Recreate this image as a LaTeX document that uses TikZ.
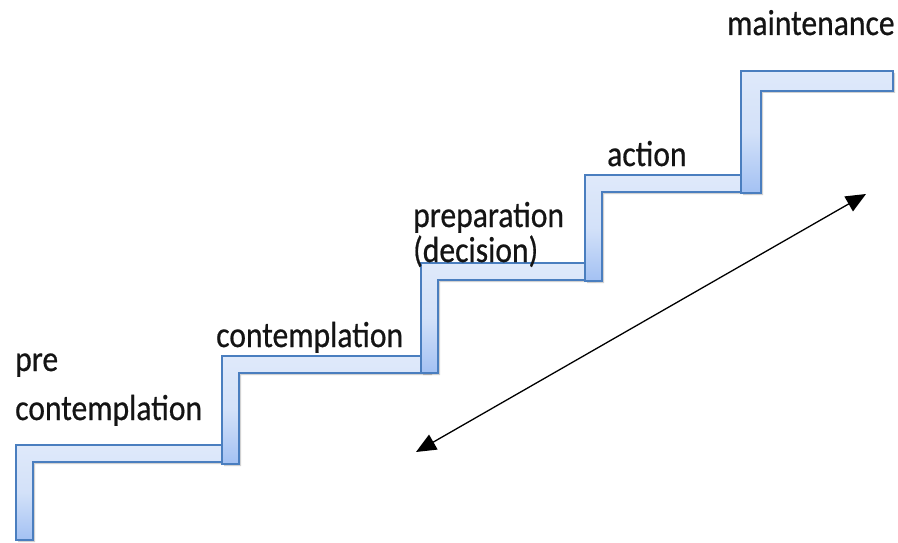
\documentclass[tikz,border=0pt]{standalone}
\usepackage{fontspec}
\usepackage{graphicx}
\setmainfont{Carlito}[FakeBold=0.6]
\usetikzlibrary{arrows.meta,shadows}
\definecolor{stepline}{HTML}{4A7EBF}
\definecolor{steptop}{HTML}{DFE9FA}
\definecolor{stepbot}{HTML}{A3C1F3}
\definecolor{txt}{HTML}{141414}
\newcommand{\stepL}[6]{% xL yT t yB xR
  \fill[black,opacity=0.18] ({#1+2},{#2+2}) -- ({#5+2},{#2+2}) -- ({#5+2},{#2+#3+2}) -- ({#1+#3+2},{#2+#3+2}) -- ({#1+#3+2},{#4+2}) -- ({#1+2},{#4+2}) -- cycle;
  \path[stairstyle] (#1,#4) -- (#1,#2) -- (#5,#2) -- (#5,{#2+#3}) -- ({#1+#3},{#2+#3}) -- ({#1+#3},#4) -- cycle;
}
\tikzset{
  stairstyle/.style={draw=stepline, line width=1.8pt, line join=miter, top color=steptop, bottom color=stepbot, middle color=steptop!80!stepbot},
  label/.style={inner sep=0pt, anchor=base west, text=txt, font=\fontsize{31}{36}\selectfont},
  arr/.style={line width=1.3pt, {Triangle[length=20pt,width=17pt]}-{Triangle[length=20pt,width=17pt]}}
}
\begin{document}
\begin{tikzpicture}[x=1pt,y=-1pt]
\useasboundingbox (0,0) rectangle (898,543);
\stepL{16}{445}{17}{540}{228}{}
\stepL{222}{356}{17}{464}{430}{}
\stepL{421}{263}{17}{373}{594}{}
\stepL{585}{175}{17}{281}{750}{}
\stepL{741}{71}{20}{193}{893}{}
\node[label] (pre) at (15,371) {\scalebox{1.02}[1.17]{pre}};
\node[label] (precont) at (15,420) {\scalebox{1.02}[1.17]{contemplation}};
\node[label] (cont) at (216,347) {\scalebox{1.02}[1.17]{contemplation}};
\node[label] (prep) at (413,227) {\scalebox{1.02}[1.17]{preparation}};
\node[label] (dec) at (413,262) {\scalebox{1.02}[1.17]{(decision)}};
\node[label] (act) at (607,166) {\scalebox{1.02}[1.17]{action}};
\node[label] (maint) at (727,35) {\scalebox{1.02}[1.17]{maintenance}};
\coordinate (lo) at (416,452);
\coordinate (hi) at (866,194);
\draw[arr] (lo) -- (hi);
\end{tikzpicture}
\end{document}
